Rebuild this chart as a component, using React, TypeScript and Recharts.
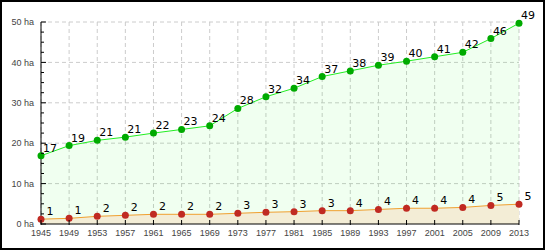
import React from 'react'
import { Area, CartesianGrid, ComposedChart, LabelList, XAxis, YAxis } from 'recharts'

const years = ['1945', '1949', '1953', '1957', '1961', '1965', '1969', '1973', '1977', '1981', '1985', '1989', '1993', '1997', '2001', '2005', '2009', '2013']
const greenValues = [16.9, 19.4, 20.7, 21.5, 22.5, 23.4, 24.3, 28.6, 31.5, 33.6, 36.5, 37.9, 39.3, 40.3, 41.4, 42.5, 45.9, 49.7]
const greenLabels = ['17', '19', '21', '21', '22', '23', '24', '28', '32', '34', '37', '38', '39', '40', '41', '42', '46', '49']
const redValues = [1.2, 1.4, 1.9, 2.15, 2.4, 2.4, 2.4, 2.65, 2.9, 3.05, 3.3, 3.3, 3.6, 3.9, 3.9, 4.1, 4.6, 4.9]
const redLabels = ['1', '1', '2', '2', '2', '2', '2', '3', '3', '3', '3', '4', '4', '4', '4', '4', '5', '5']
const yTicks = [0, 2.5, 5, 7.5, 10, 12.5, 15, 17.5, 20, 22.5, 25, 27.5, 30, 32.5, 35, 37.5, 40, 42.5, 45, 47.5, 50]
const yGrid = [10, 20, 30, 40, 50]

const data = years.map((year, i) => ({
    year,
    green: greenValues[i],
    red: redValues[i],
    gl: greenLabels[i],
    rl: redLabels[i],
}))

const tickFont = { fontFamily: '"Liberation Sans", Arial, sans-serif', fontSize: 9, fill: '#444' }

const YTick = (props: any) => {
    const { x, y, payload } = props
    const major = payload.value % 10 === 0
    return (
        <g>
            <line x1={x} x2={x + (major ? 5 : 3)} y1={y} y2={y} stroke="#000" />
            {major && (
                <text x={x - 7} y={y} dy="0.35em" textAnchor="end" {...tickFont}>
                    {payload.value} ha
                </text>
            )}
        </g>
    )
}

const XTick = (props: any) => {
    const { x, y, payload } = props
    return (
        <g>
            <line x1={x} x2={x} y1={y - 4} y2={y + 1} stroke="#000" />
            <text x={x} y={y + 12} textAnchor="middle" {...tickFont}>
                {payload.value}
            </text>
        </g>
    )
}

const PointLabel = (props: any) => {
    const x = props.x ?? props.viewBox?.x
    const y = props.y ?? props.viewBox?.y
    return (
        <text x={x + 9} y={y - 4} textAnchor="middle" fontFamily='"DejaVu Sans", sans-serif' fontSize={11} fill="#000">
            {props.value}
        </text>
    )
}

export default function App() {
    return (
        <div style={{ position: 'absolute', left: 0, top: 0, width: 545, height: 250, background: '#fff' }}>
            <ComposedChart width={545} height={250} data={data} margin={{ top: 22, right: 26, left: 0, bottom: 6 }}>
                <CartesianGrid stroke="#cccccc" strokeDasharray="4 3" horizontalValues={yGrid} />
                <XAxis
                    dataKey="year"
                    interval={0}
                    height={20}
                    tickSize={0}
                    tickMargin={0}
                    tickLine={false}
                    axisLine={{ stroke: '#000' }}
                    tick={<XTick />}
                />
                <YAxis
                    domain={[0, 50]}
                    ticks={yTicks}
                    interval={0}
                    width={41}
                    tickSize={0}
                    tickMargin={0}
                    tickLine={false}
                    axisLine={{ stroke: '#000' }}
                    tick={<YTick />}
                />
                <Area
                    type="linear"
                    dataKey="green"
                    stroke="#22ee22"
                    strokeWidth={1}
                    fill="#00ff00"
                    fillOpacity={0.06}
                    dot={{ r: 3.5, fill: '#00aa00', fillOpacity: 1, stroke: 'none' }}
                    activeDot={false}
                    isAnimationActive={false}
                >
                    <LabelList dataKey="gl" content={<PointLabel />} />
                </Area>
                <Area
                    type="linear"
                    dataKey="red"
                    stroke="#f0a030"
                    strokeWidth={1}
                    fill="#f3edd6"
                    fillOpacity={1}
                    dot={{ r: 3.5, fill: '#c02a22', fillOpacity: 1, stroke: 'none' }}
                    activeDot={false}
                    isAnimationActive={false}
                >
                    <LabelList dataKey="rl" content={<PointLabel />} />
                </Area>
            </ComposedChart>
            <div
                style={{
                    position: 'absolute',
                    left: 0,
                    top: 0,
                    width: 545,
                    height: 250,
                    boxSizing: 'border-box',
                    border: '2px solid #000',
                    pointerEvents: 'none',
                }}
            />
        </div>
    )
}
